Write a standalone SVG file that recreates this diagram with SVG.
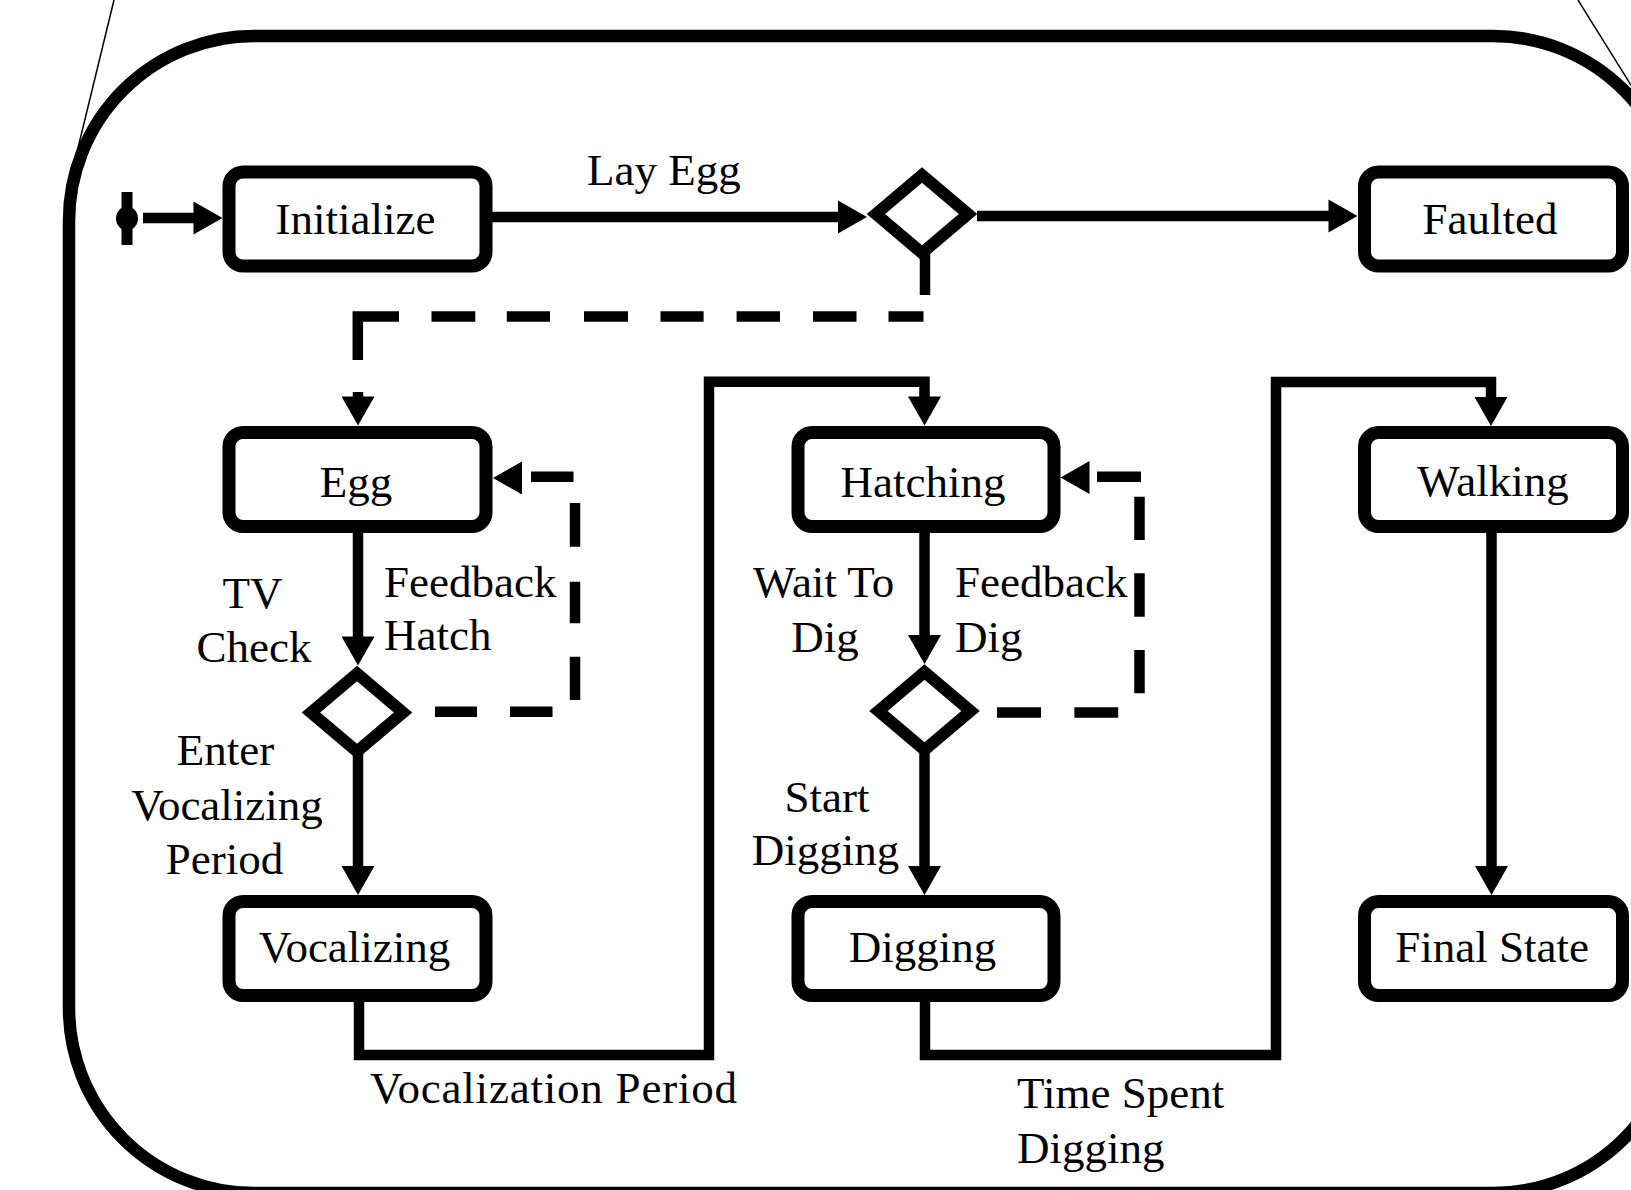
<svg xmlns="http://www.w3.org/2000/svg" xmlns:xlink="http://www.w3.org/1999/xlink" width="1631" height="1190" viewBox="0 0 1631 1190">
<style>
.box{fill:#fff;stroke:#000;stroke-width:13}
.lbl{font-family:"Liberation Serif","Times New Roman",serif;font-size:45px;fill:#000}
.mid{text-anchor:middle}
.ln{fill:none;stroke:#000;stroke-width:10.5;stroke-linejoin:miter;stroke-linecap:butt}
.dia{fill:#fff;stroke:#000;stroke-width:12;stroke-linejoin:miter;stroke-miterlimit:10}
.thin{fill:none;stroke:#000;stroke-width:1.5}
.frame{fill:none;stroke:#000;stroke-width:12.5}
.ah{fill:#000}
</style>
<defs>
<path id="ah" d="M0,0 L-29,-16.5 L-29,16.5 Z"/>
</defs>
<rect fill="#fff" x="0" y="0" width="1631" height="1190"/>
<g id="frame">
<line class="thin" x1="114" y1="0" x2="77" y2="152"/>
<line class="thin" x1="1578" y1="0" x2="1634" y2="90"/>
<rect class="frame" x="69" y="36" width="1609" height="1157" rx="185" ry="185"/>
</g>
<g id="start">
<rect x="121.5" y="192" width="11" height="53" fill="#000"/>
<ellipse cx="127" cy="218.5" rx="11" ry="12" fill="#000"/>
</g>
<g id="connectors">
<path class="ln" d="M143,218H200"/>
<use xlink:href="#ah" class="ah" transform="translate(222.5,218)"/>
<path class="ln" d="M486,217H845"/>
<use xlink:href="#ah" class="ah" transform="translate(867,217)"/>
<path class="ln" d="M977,216H1335"/>
<use xlink:href="#ah" class="ah" transform="translate(1357.5,216)"/>
<path class="ln" d="M925,253V295"/>
<path class="ln" d="M923.5,316.5H888.5M856.5,316.5H813M780,316.5H736.6M703.6,316.5H660.5M628,316.5H584M550,316.5H506.8M475.3,316.5H431.5M399,316.5H357.8V360"/>
<path class="ln" d="M358,392V405"/>
<use xlink:href="#ah" class="ah" transform="translate(358,425.5) rotate(90)"/>
<path class="ln" d="M358,527V645"/>
<use xlink:href="#ah" class="ah" transform="translate(358,665.5) rotate(90)"/>
<path class="ln" d="M358,751V875"/>
<use xlink:href="#ah" class="ah" transform="translate(358,895) rotate(90)"/>
<path class="ln" d="M435,711.7H477M510,711.7H552.5M575,700V656.7M575,623.3V581.7M575,546.7V503M573.5,476.7H531"/>
<use xlink:href="#ah" class="ah" transform="translate(493,478) rotate(180)"/>
<path class="ln" d="M359,995V1055H709V381.7H924.5V405"/>
<use xlink:href="#ah" class="ah" transform="translate(924.5,425.5) rotate(90)"/>
<path class="ln" d="M924.5,527V645"/>
<use xlink:href="#ah" class="ah" transform="translate(924.5,664) rotate(90)"/>
<path class="ln" d="M924.5,750V875"/>
<use xlink:href="#ah" class="ah" transform="translate(924.5,895) rotate(90)"/>
<path class="ln" d="M997,712.5H1041M1074.4,712.5H1118.2M1139.5,693.3V650M1139.5,616.7V573.3M1139.5,540V496.7M1141,476.7H1097"/>
<use xlink:href="#ah" class="ah" transform="translate(1060.5,477.5) rotate(180)"/>
<path class="ln" d="M925,995V1055H1276V382H1491V405"/>
<use xlink:href="#ah" class="ah" transform="translate(1491,426) rotate(90)"/>
<path class="ln" d="M1491.5,527V875"/>
<use xlink:href="#ah" class="ah" transform="translate(1491.5,895) rotate(90)"/>
</g>
<g id="labels">
<text class="lbl" x="587" y="185">Lay Egg</text>
<text class="lbl mid" x="252.5" y="608.3">TV</text>
<text class="lbl mid" x="254" y="661.7">Check</text>
<text class="lbl" x="384" y="596.7">Feedback</text>
<text class="lbl" x="384" y="650">Hatch</text>
<text class="lbl mid" x="225.4" y="765">Enter</text>
<text class="lbl mid" x="227" y="819.5">Vocalizing</text>
<text class="lbl mid" x="224.5" y="874">Period</text>
<text class="lbl mid" x="823.6" y="596.7">Wait To</text>
<text class="lbl mid" x="825" y="651.7">Dig</text>
<text class="lbl" x="955" y="596.7">Feedback</text>
<text class="lbl" x="955" y="651.7">Dig</text>
<text class="lbl mid" x="827" y="811.7">Start</text>
<text class="lbl mid" x="825.6" y="865">Digging</text>
<text class="lbl" x="370" y="1103" textLength="367" lengthAdjust="spacing">Vocalization Period</text>
<text class="lbl" x="1017" y="1108">Time Spent</text>
<text class="lbl" x="1017" y="1163">Digging</text>
</g>
<g id="decision1"><polygon class="dia" points="876,214 922,175 968,214 922,253"/></g>
<g id="decision2"><polygon class="dia" points="311,712.5 357,673.5 403,712.5 357,751.5"/></g>
<g id="decision3"><polygon class="dia" points="878.5,711 924.5,672 970.5,711 924.5,750"/></g>
<g id="initialize"><rect class="box" x="229" y="172" width="257" height="94" rx="14"/><text class="lbl mid" x="355.5" y="233.5">Initialize</text></g>
<g id="faulted"><rect class="box" x="1364.5" y="172" width="258" height="94" rx="14"/><text class="lbl mid" x="1490" y="233.5">Faulted</text></g>
<g id="egg"><rect class="box" x="229" y="432.5" width="257" height="94" rx="14"/><text class="lbl mid" x="356" y="496.7">Egg</text></g>
<g id="hatching"><rect class="box" x="798" y="432.5" width="256" height="94" rx="14"/><text class="lbl mid" x="923" y="496.7">Hatching</text></g>
<g id="walking"><rect class="box" x="1364.5" y="432.5" width="258" height="94" rx="14"/><text class="lbl mid" x="1493" y="496">Walking</text></g>
<g id="vocalizing"><rect class="box" x="229" y="901.5" width="257" height="94" rx="14"/><text class="lbl mid" x="354.5" y="961.7">Vocalizing</text></g>
<g id="digging"><rect class="box" x="798" y="901.5" width="256" height="94" rx="14"/><text class="lbl mid" x="922.5" y="961.7">Digging</text></g>
<g id="final"><rect class="box" x="1364.5" y="901.5" width="258" height="94" rx="14"/><text class="lbl mid" x="1492" y="961.7">Final State</text></g>
</svg>
